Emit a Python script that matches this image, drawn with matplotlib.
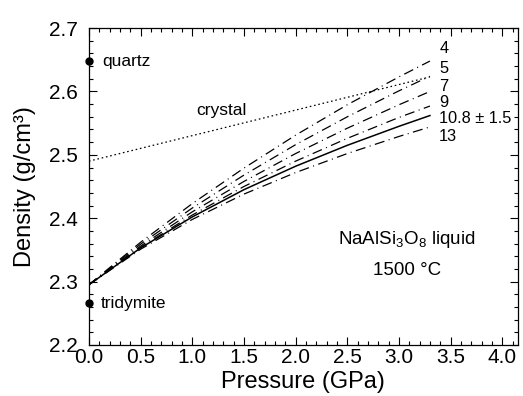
import numpy as np
import matplotlib
matplotlib.use('Agg')
import matplotlib.pyplot as plt
from matplotlib.ticker import MultipleLocator, FormatStrFormatter

plt.rcParams['font.family'] = ['Liberation Sans', 'DejaVu Sans']
plt.rcParams['mathtext.fontset'] = 'custom'
plt.rcParams['mathtext.rm'] = 'Liberation Sans'
plt.rcParams['mathtext.it'] = 'Liberation Sans:italic'

# pressure grid (GPa) and liquid densities (g/cm3) for each K'
pressure = [0.0, 0.5, 1.0, 1.5, 2.0, 2.5, 3.0, 3.3]
kprime_labels = ['4', '5', '7', '9', '10.8 ± 1.5', '13']
rho_k4 = [2.295, 2.362, 2.423, 2.479, 2.531, 2.579, 2.623, 2.648]
rho_k5 = [2.295, 2.359, 2.416, 2.468, 2.516, 2.560, 2.601, 2.624]
rho_k7 = [2.295, 2.356, 2.410, 2.458, 2.502, 2.542, 2.579, 2.600]
rho_k9 = [2.295, 2.354, 2.405, 2.450, 2.490, 2.526, 2.559, 2.577]
rho_k108 = [2.295, 2.353, 2.402, 2.445, 2.482, 2.515, 2.545, 2.562]
rho_k13 = [2.295, 2.351, 2.398, 2.438, 2.472, 2.502, 2.529, 2.544]

# crystalline albite
crystal_p = [0.0, 3.3]
crystal_rho = [2.490, 2.623]

# silica phases at 0 GPa
phase_names = ['quartz', 'tridymite']
phase_rho = [2.648, 2.266]

# label y positions next to line ends
label_y = [2.668, 2.637, 2.608, 2.582, 2.558, 2.529]

fig = plt.figure(figsize=(5.23, 3.96), dpi=100)
ax = fig.add_axes([0.170, 0.129, 0.820, 0.800])

dash = (0, (8, 3.6, 0.8, 3.6))
curves = [rho_k4, rho_k5, rho_k7, rho_k9, rho_k108, rho_k13]
for i, rho in enumerate(curves):
    if i == 4:
        ax.plot(pressure, rho, color='black', lw=1.1)
    else:
        ax.plot(pressure, rho, color='black', lw=0.9, linestyle=dash)
    ax.text(3.39, label_y[i], kprime_labels[i], fontsize=11.8,
            ha='left', va='center')

ax.plot(crystal_p, crystal_rho, color='black', lw=0.9, linestyle=(0, (1.3, 2.2)))
ax.text(1.28, 2.570, 'crystal', fontsize=12.5, ha='center', va='center')

ax.plot([0, 0], phase_rho, 'o', color='black', ms=5, clip_on=False, zorder=5)
ax.text(0.13, phase_rho[0], phase_names[0], fontsize=12.5, ha='left', va='center')
ax.text(0.11, phase_rho[1], phase_names[1], fontsize=12.5, ha='left', va='center')

ax.text(3.08, 2.366, r'NaAlSi$_3$O$_8$ liquid', fontsize=13.5, ha='center', va='center')
ax.text(3.08, 2.317, '1500 °C', fontsize=13.5, ha='center', va='center')

ax.set_xlim(0, 4.15)
ax.set_ylim(2.2, 2.7)
ax.xaxis.set_major_locator(MultipleLocator(0.5))
ax.xaxis.set_minor_locator(MultipleLocator(0.1))
ax.yaxis.set_major_locator(MultipleLocator(0.1))
ax.yaxis.set_minor_locator(MultipleLocator(0.02))
ax.xaxis.set_major_formatter(FormatStrFormatter('%.1f'))
ax.yaxis.set_major_formatter(FormatStrFormatter('%.1f'))
ax.tick_params(which='both', direction='in', top=True, right=True,
               labelsize=15, width=0.8)
ax.tick_params(axis='x', pad=2)
ax.tick_params(axis='y', pad=8)
ax.tick_params(which='major', length=6)
ax.tick_params(which='minor', length=3)
for s in ax.spines.values():
    s.set_linewidth(0.9)

ax.set_xlabel('Pressure (GPa)', fontsize=17, labelpad=3)
ax.set_ylabel('Density (g/cm³)', fontsize=17, labelpad=9)

fig.savefig('out.png', dpi=100)
